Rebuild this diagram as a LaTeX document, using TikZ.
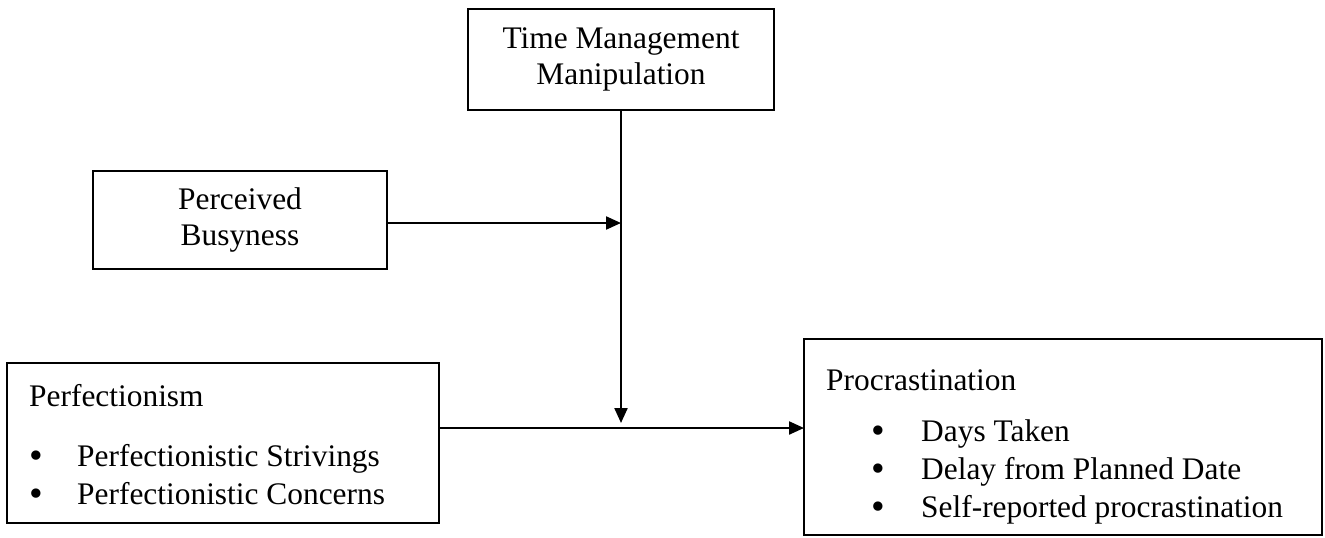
\documentclass[tikz,border=0pt]{standalone}
\usepackage{fontspec}
\setmainfont{Liberation Serif}
\usetikzlibrary{arrows.meta}
\begin{document}
\begin{tikzpicture}[x=1pt,y=-1pt,
  box/.style={draw,line width=2.2pt,inner sep=0pt,outer sep=0pt,font=\fontsize{31.4}{36}\selectfont,align=center},
  txt/.style={anchor=base west,inner sep=0pt,font=\fontsize{31.4}{36}\selectfont},
  bul/.style={anchor=base,inner sep=0pt,font=\fontsize{39}{39}\selectfont},
  arr/.style={line width=2.2pt,-{Triangle[length=15pt,width=13pt]}}]
\useasboundingbox (0,0) rectangle (1325,538);
% boxes
\node[box,minimum width=306pt,minimum height=101pt] (tm) at (621,59.5) {Time Management\\Manipulation};
\node[box,minimum width=294pt,minimum height=98pt] (pb) at (240,220) {Perceived\\Busyness};
\node[box,minimum width=432pt,minimum height=160pt] (perf) at (223,443) {};
\node[box,minimum width=518pt,minimum height=196pt] (proc) at (1063,437) {};
% perfectionism text
\node[txt] (perfh) at (29,406) {Perfectionism};
\node[bul] (pb1) at (36,468) {\textbullet};
\node[bul] (pb2) at (36,506) {\textbullet};
\node[txt] (pi1) at (77,466) {Perfectionistic Strivings};
\node[txt] (pi2) at (77,504) {Perfectionistic Concerns};
% procrastination text
\node[txt] (proch) at (826,390) {Procrastination};
\node[bul] (qb1) at (878,443) {\textbullet};
\node[bul] (qb2) at (878,481) {\textbullet};
\node[bul] (qb3) at (878,519) {\textbullet};
\node[txt] (qi1) at (921,441) {Days Taken};
\node[txt] (qi2) at (921,479) {Delay from Planned Date};
\node[txt] (qi3) at (921,517) {Self-reported procrastination};
% connectors
\coordinate (j) at (621,428);
\draw[arr] ([yshift=-3pt]pb.east) coordinate (pbe) -- (pbe -| tm.south);
\draw[arr] (tm.south) -- ([yshift=5pt]j);
\draw[arr] (perf.east |- j) -- (proc.west |- j);
\end{tikzpicture}
\end{document}
